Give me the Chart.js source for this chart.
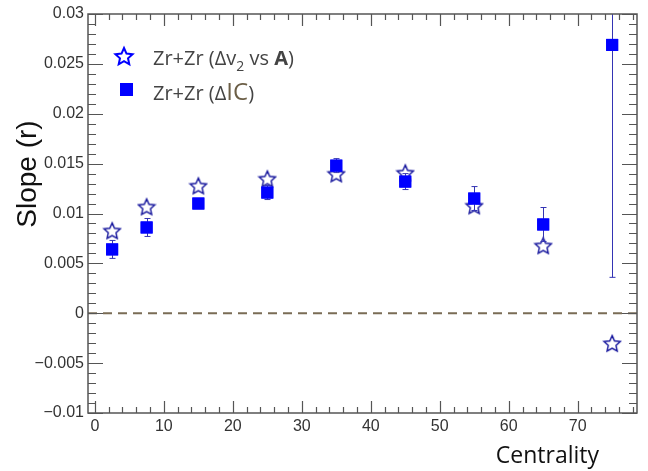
<!DOCTYPE html>
<html>
<head>
<meta charset="utf-8">
<script src="https://cdn.jsdelivr.net/npm/chart.js@4/dist/chart.umd.min.js"></script>
<style>
  html, body { margin: 0; padding: 0; background: #fff; }
  #wrap { width: 648px; height: 471px; position: relative; }
</style>
</head>
<body>
<div id="wrap"><canvas id="c" width="648" height="471"></canvas></div>
<script>
// ── Data ─────────────────────────────────────────────────────
const centrality  = [2.5, 7.5, 15, 25, 35, 45, 55, 65, 75];
const slopeDv2    = [0.0083, 0.0107, 0.0128, 0.0135, 0.0140, 0.0141, 0.0108, 0.0068, -0.0030];
const slopeIC     = [0.0064, 0.0086, 0.0110, 0.0121, 0.0148, 0.0132, 0.0115, 0.0089, 0.0269];
const slopeICErr  = [0.0009, 0.0009, 0.0005, 0.0007, 0.0007, 0.0008, 0.0012, 0.0017, 0.0233];

const xRange      = [-1, 78.6];
const yRange      = [-0.01, 0.03];
const xMajorTicks = [0, 10, 20, 30, 40, 50, 60, 70];
const yMajorTicks = [-0.01, -0.005, 0, 0.005, 0.01, 0.015, 0.02, 0.025, 0.03];
const xMinorStep  = 2;
const yMinorStep  = 0.001;

const AXIS_COLOR = '#555';
const TEXT_COLOR = '#444';

// 5-point open star used as point style
function starCanvas(size, color, lw) {
  const c = document.createElement('canvas');
  c.width = size; c.height = size;
  const g = c.getContext('2d');
  const cx = size / 2, cy = size / 2 + 1;
  const R = size / 2 - lw, r = R * 0.47;
  g.beginPath();
  for (let i = 0; i < 10; i++) {
    const a = -Math.PI / 2 + i * Math.PI / 5;
    const rad = i % 2 ? r : R;
    const px = cx + rad * Math.cos(a), py = cy + rad * Math.sin(a);
    i ? g.lineTo(px, py) : g.moveTo(px, py);
  }
  g.closePath();
  g.fillStyle = '#fff';
  g.fill();
  g.strokeStyle = color;
  g.lineWidth = lw;
  g.stroke();
  return c;
}

const starPoint  = starCanvas(20, '#14149c', 1.4);
const starLegend = starCanvas(22, '#0000ff', 2);

function fmtY(v) {
  if (Math.abs(v) < 1e-9) return '0';
  const s = String(+v.toFixed(3));
  return v < 0 ? '\u2212' + s.slice(1) : s;
}

// ── Plugins ──────────────────────────────────────────────────
const errorBars = {
  id: 'errorBars',
  afterDatasetsDraw(chart) {
    const { ctx, chartArea: a, scales: { x, y } } = chart;
    ctx.save();
    ctx.beginPath();
    ctx.rect(a.left, a.top, a.right - a.left, a.bottom - a.top);
    ctx.clip();
    ctx.strokeStyle = '#3434b4';
    ctx.lineWidth = 1;
    centrality.forEach((c, i) => {
      const px = Math.round(x.getPixelForValue(c)) + 0.5;
      const yTop = y.getPixelForValue(slopeIC[i] + slopeICErr[i]);
      const yBot = y.getPixelForValue(slopeIC[i] - slopeICErr[i]);
      ctx.beginPath();
      ctx.moveTo(px, yTop); ctx.lineTo(px, yBot);
      ctx.moveTo(px - 3, yTop); ctx.lineTo(px + 3, yTop);
      ctx.moveTo(px - 3, yBot); ctx.lineTo(px + 3, yBot);
      ctx.stroke();
    });
    ctx.restore();
    // redraw squares on top of the bar lines
    const meta = chart.getDatasetMeta(2);
    meta.data.forEach(el => el.draw(ctx, a));
  },
};

const frameTicks = {
  id: 'frameTicks',
  afterDraw(chart) {
    const { ctx, chartArea: a, scales: { x, y } } = chart;
    ctx.save();
    ctx.strokeStyle = AXIS_COLOR;
    ctx.lineWidth = 1.5;
    ctx.strokeRect(a.left, a.top, a.right - a.left, a.bottom - a.top);
    ctx.lineWidth = 1.2;
    ctx.beginPath();
    // x ticks, bottom and top
    for (let v = 0; v <= xRange[1] + 1e-6; v += xMinorStep) {
      const major = xMajorTicks.includes(Math.round(v * 100) / 100);
      const len = major ? 12 : 6;
      const px = Math.round(x.getPixelForValue(v)) + 0.5;
      ctx.moveTo(px, a.bottom); ctx.lineTo(px, a.bottom - len);
      ctx.moveTo(px, a.top);    ctx.lineTo(px, a.top + len);
    }
    // y ticks, left and right
    for (let k = 0; k <= Math.round((yRange[1] - yRange[0]) / yMinorStep); k++) {
      const v = yRange[0] + k * yMinorStep;
      const major = k % 5 === 0;
      const len = major ? 15 : 8;
      const py = Math.round(y.getPixelForValue(v)) + 0.5;
      ctx.moveTo(a.left, py);  ctx.lineTo(a.left + len, py);
      ctx.moveTo(a.right, py); ctx.lineTo(a.right - len, py);
    }
    ctx.stroke();

    // axis titles
    ctx.fillStyle = '#111';
    ctx.font = '23px "Open Sans"';
    ctx.textAlign = 'right';
    ctx.textBaseline = 'alphabetic';
    ctx.fillText('Centrality', 599, 463);

    ctx.save();
    ctx.translate(36, 174);
    ctx.rotate(-Math.PI / 2);
    ctx.textAlign = 'center';
    ctx.font = '28px "Liberation Sans"';
    ctx.fillText('Slope (r)', 0, 0);
    ctx.restore();

    // legend
    ctx.drawImage(starLegend, 124 - 11, 56 - 11);
    ctx.fillStyle = '#0000ff';
    ctx.fillRect(120, 83, 13, 13);

    ctx.textAlign = 'left';
    let tx = 153;
    const put = (t, font, color, dy = 0) => {
      ctx.font = font;
      ctx.fillStyle = color;
      ctx.fillText(t, tx, 65 + dy);
      tx += ctx.measureText(t).width;
    };
    put('Zr+Zr (\u0394v', '20px "Open Sans"', TEXT_COLOR);
    put('2', '14px "Open Sans"', TEXT_COLOR, 6);
    put(' vs ', '20px "Open Sans"', TEXT_COLOR);
    put('A', 'bold 20px "Open Sans"', TEXT_COLOR);
    put(')', '20px "Open Sans"', TEXT_COLOR);

    tx = 153;
    const put2 = (t, font, color) => {
      ctx.font = font;
      ctx.fillStyle = color;
      ctx.fillText(t, tx, 100);
      tx += ctx.measureText(t).width;
    };
    put2('Zr+Zr (\u0394', '20px "Open Sans"', TEXT_COLOR);
    put2('IC', '24px "Open Sans"', '#6b5e46');
    put2(')', '20px "Open Sans"', TEXT_COLOR);
    ctx.restore();
  },
};

// ── Chart ────────────────────────────────────────────────────
new Chart(document.getElementById('c'), {
  type: 'scatter',
  data: {
    datasets: [
      {
        label: 'zero',
        type: 'line',
        data: [{ x: xRange[0], y: 0 }, { x: xRange[1], y: 0 }],
        borderColor: '#7a6c55',
        borderWidth: 2,
        borderDash: [9, 6],
        pointRadius: 0,
        order: 3,
      },
      {
        label: 'Zr+Zr (Δv2 vs A)',
        data: centrality.map((c, i) => ({ x: c, y: slopeDv2[i] })),
        pointStyle: starPoint,
        pointRadius: 10,
        order: 2,
      },
      {
        label: 'Zr+Zr (ΔIC)',
        data: centrality.map((c, i) => ({ x: c, y: slopeIC[i] })),
        pointStyle: 'rect',
        pointRadius: 8.5,
        rotation: 0,
        backgroundColor: '#0000ff',
        borderColor: '#0000ff',
        borderWidth: 0,
        order: 1,
      },
    ],
  },
  options: {
    responsive: false,
    animation: false,
    layout: { padding: { top: 14, right: 6, left: 0, bottom: 0 } },
    plugins: { legend: { display: false }, tooltip: { enabled: false } },
    scales: {
      x: {
        type: 'linear',
        min: xRange[0],
        max: xRange[1],
        grid: { display: false, drawTicks: false },
        border: { display: false },
        afterBuildTicks: s => { s.ticks = xMajorTicks.map(v => ({ value: v })); },
        afterFit: s => { s.height = 58; },
        ticks: {
          padding: 4,
          color: '#333',
          font: { family: 'Liberation Sans', size: 16 },
          maxRotation: 0,
          callback: v => String(v),
        },
      },
      y: {
        type: 'linear',
        min: yRange[0],
        max: yRange[1],
        grid: { display: false, drawTicks: false },
        border: { display: false },
        afterBuildTicks: s => { s.ticks = yMajorTicks.map(v => ({ value: v })); },
        afterFit: s => { s.width = 88; },
        ticks: {
          padding: 4,
          color: '#333',
          font: { family: 'Liberation Sans', size: 16 },
          callback: v => fmtY(v),
        },
      },
    },
  },
  plugins: [errorBars, frameTicks],
});
</script>
</body>
</html>
